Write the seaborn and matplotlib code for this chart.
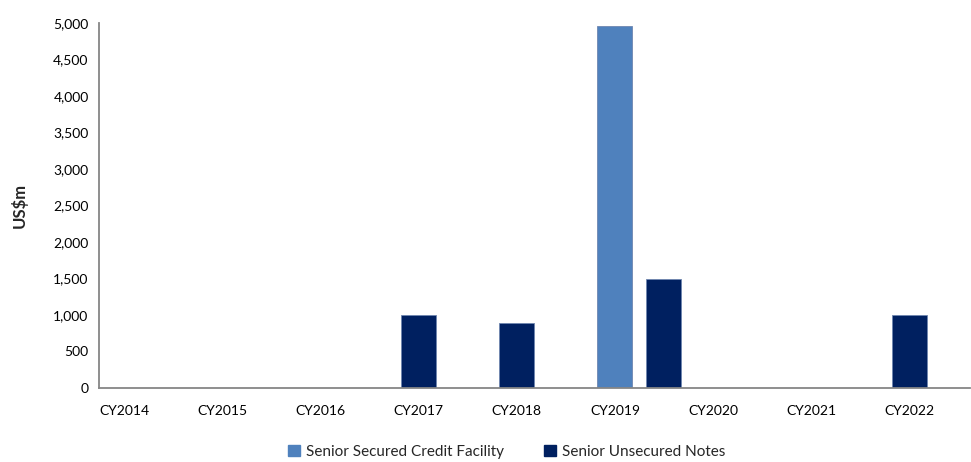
#!/usr/bin/env python3
"""
Debt maturity profile: bars by maturity date, one colour per facility.
"""

import matplotlib.pyplot as plt
import matplotlib.ticker as mticker
import pandas as pd
import seaborn as sns

# maturity (fractional calendar year), facility, amount in US$m
maturity = [2017.25, 2018.25, 2019.25, 2019.75, 2022.25]
facility = [
    "Senior Unsecured Notes",
    "Senior Unsecured Notes",
    "Senior Secured Credit Facility",
    "Senior Unsecured Notes",
    "Senior Unsecured Notes",
]
amount = [1000, 890, 4960, 1500, 1000]

series = ["Senior Secured Credit Facility", "Senior Unsecured Notes"]
colors = ["#4F81BD", "#002060"]
years = list(range(2014, 2023))
year_labels = [f"CY{y}" for y in years]
y_ticks = list(range(0, 5001, 500))

sns.set_theme(style="white")
plt.rcParams["font.family"] = ["Lato", "DejaVu Sans"]

df = pd.DataFrame({"maturity": maturity, "facility": facility, "amount": amount})

fig = plt.figure(figsize=(9.71, 4.62), dpi=100)
ax = fig.add_axes([99 / 971, 1 - 388 / 462, 871 / 971, 365 / 462])

sns.barplot(
    data=df,
    x="maturity",
    y="amount",
    hue="facility",
    hue_order=series,
    palette=colors,
    saturation=1,
    native_scale=True,
    dodge=False,
    width=0.712,
    errorbar=None,
    edgecolor="#6F86B0",
    linewidth=0.6,
    ax=ax,
)

ax.set_xlim(2014, 2022.87)
ax.set_ylim(0, 5000)
ax.set_xticks(years)
ax.set_xticklabels(year_labels, ha="left")
ax.set_yticks(y_ticks)
ax.yaxis.set_major_formatter(mticker.StrMethodFormatter("{x:,.0f}"))
ax.tick_params(axis="both", labelsize=10, colors="#868686", labelcolor="#000000",
               direction="out", length=4, width=1)
ax.tick_params(axis="x", pad=8)

sns.despine(ax=ax)
for side in ("left", "bottom"):
    ax.spines[side].set_color("#868686")
    ax.spines[side].set_linewidth(1.3)

ax.set_xlabel("")
ax.set_ylabel("US$m", fontsize=12, fontweight="bold", labelpad=18)

ax.get_legend().remove()
handles = [plt.Rectangle((0, 0), 1, 1, color=c) for c in colors]
fig.legend(
    handles,
    series,
    loc="center",
    bbox_to_anchor=(0.522, 0.022),
    ncol=2,
    frameon=False,
    fontsize=11,
    handlelength=0.8,
    handleheight=0.8,
    handletextpad=0.4,
    columnspacing=2.6,
)

fig.savefig("out.png", dpi=100)
